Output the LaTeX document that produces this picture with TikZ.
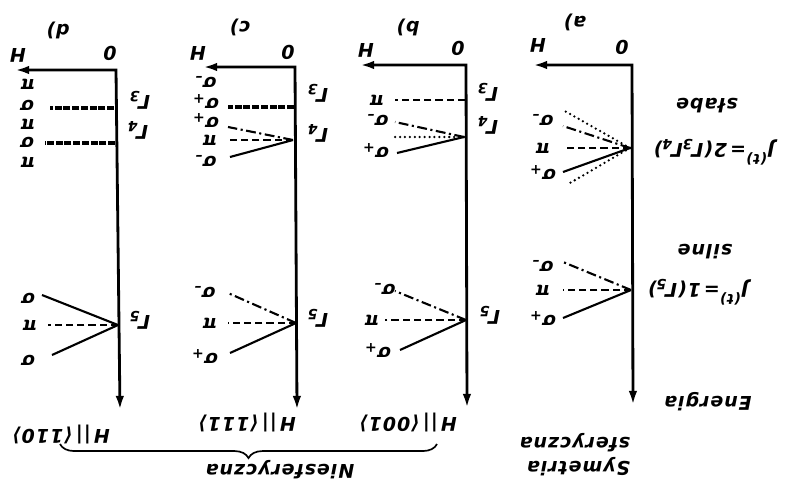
\documentclass[tikz,border=0pt]{standalone}
\usepackage{fontspec}
\setmainfont{DejaVu Sans}[LetterSpace=5]
\usetikzlibrary{arrows.meta,decorations.pathreplacing}

\newcommand{\lo}[1]{\raisebox{-0.4ex}{\fontsize{10}{10}\selectfont #1}}
\newcommand{\hi}[1]{\raisebox{1.0ex}{\fontsize{10}{10}\selectfont #1}}
\newcommand{\sgm}[1]{σ\lo{#1}}
\newcommand{\Gm}[1]{Γ\kern-1pt\lo{#1}}
\newcommand{\hdir}[1]{H\,||\,⟨#1⟩}

\begin{document}
\begin{tikzpicture}[x=0.025cm, y=-0.025cm,
  lbl/.style={rotate=180, inner sep=1pt, font=\fontsize{13}{15}\selectfont\bfseries\itshape},
  big/.style={lbl, font=\fontsize{13.5}{17}\selectfont\bfseries\itshape},
  axis/.style={line width=2pt, {Latex[length=10pt,width=6pt]}-{Latex[length=10pt,width=6pt]}},
  lvl/.style={line width=1.5pt},
  dashln/.style={lvl, dash pattern=on 5pt off 3pt},
  dashdot/.style={lvl, dash pattern=on 7pt off 2.5pt on 1.5pt off 2.5pt},
  dotln/.style={line width=1.8pt, line cap=round, dash pattern=on 0pt off 3.5pt},
  heavy/.style={line width=2.4pt, dash pattern=on 5pt off 1.2pt}]
\useasboundingbox (0,0) rectangle (794,487);

% a) symetria sferyczna
\coordinate (a0) at (632,65);
\coordinate (aH) at (533,65);
\coordinate (aE) at (633,405);
\draw[axis] (aH) -- (a0) -- (aE);
\node[big] (a0l) at (622,47) {0};
\node[big] (aHl) at (538,45) {H};
\node[big] (alab) at (575,22) {a)};
\coordinate (a34) at (630,148);
\coordinate (a34a) at (563,110);
\coordinate (a34b) at (563,126);
\coordinate (a34c) at (563,148);
\coordinate (a34d) at (563,172);
\coordinate (a34e) at (570,183);
\draw[dotln] (a34) -- (a34a);
\draw[dashdot] (a34) -- (a34b);
\draw[dashln] (a34) -- (a34c);
\draw[lvl] (a34) -- (a34d);
\draw[dotln] (a34) -- (a34e);
\node[lbl] (as1) at (543,118) {\sgm{–}};
\node[lbl] (ap1) at (543,148) {π};
\node[lbl] (as2) at (543,172) {\sgm{+}};
\coordinate (a5) at (631,290);
\coordinate (a5a) at (563,262);
\coordinate (a5b) at (563,290);
\coordinate (a5c) at (563,318);
\draw[dashdot] (a5) -- (a5a);
\draw[dashln] (a5) -- (a5b);
\draw[lvl] (a5) -- (a5c);
\node[lbl] (as3) at (543,264) {\sgm{–}};
\node[lbl] (ap2) at (543,290) {π};
\node[lbl] (as4) at (543,318) {\sgm{+}};
\node[big] (aJ34) at (714,152) {J\hi{(t)}=\,2(\Gm{3}\Gm{4})};
\node[big] (aslab) at (707,106) {słabe};
\node[big] (aJ5) at (698,292) {J\hi{(t)}=\,1(\Gm{5})};
\node[big] (asil) at (705,252) {silne};
\node[big] (aen) at (708,402) {Energia};
\node[big, align=left] (asym) at (575,455) {Symetria\\sferyczna};

% b) H || <001>
\coordinate (b0) at (466,65);
\coordinate (bH) at (360,65);
\coordinate (bE) at (467,408);
\draw[axis] (bH) -- (b0) -- (bE);
\node[big] (b0l) at (458,48) {0};
\node[big] (bHl) at (366,50) {H};
\node[big] (blab) at (408,27) {b)};
\coordinate (b3) at (465,100);
\coordinate (b3a) at (395,100);
\draw[dashln] (b3) -- (b3a);
\node[lbl] (bp1) at (377,100) {π};
\coordinate (b4) at (464,137);
\coordinate (b4a) at (395,122);
\coordinate (b4b) at (393,137);
\coordinate (b4c) at (397,153);
\draw[dashdot] (b4) -- (b4a);
\draw[dotln] (b4) -- (b4b);
\draw[lvl] (b4) -- (b4c);
\node[lbl] (bs1) at (378,118) {\sgm{–}};
\node[lbl] (bs2) at (376,150) {\sgm{+}};
\node[big] (bG3) at (488,92) {\Gm{3}};
\node[big] (bG4) at (488,125) {\Gm{4}};
\coordinate (b5) at (466,320);
\coordinate (b5a) at (395,291);
\coordinate (b5b) at (385,320);
\coordinate (b5c) at (400,350);
\draw[dashdot] (b5) -- (b5a);
\draw[dashln] (b5) -- (b5b);
\draw[lvl] (b5) -- (b5c);
\node[lbl] (bs3) at (385,287) {\sgm{–}};
\node[lbl] (bp2) at (372,320) {π};
\node[lbl] (bs4) at (378,350) {\sgm{+}};
\node[big] (bG5) at (490,315) {\Gm{5}};
\node[big] (bdir) at (408,423) {\hdir{001}};

% c) H || <111>
\coordinate (c0) at (295,67);
\coordinate (cH) at (203,67);
\coordinate (cE) at (297,410);
\draw[axis] (cH) -- (c0) -- (cE);
\node[big] (c0l) at (288,52) {0};
\node[big] (cHl) at (198,53) {H};
\node[big] (clab) at (240,27) {c)};
\coordinate (c3) at (294,107);
\coordinate (c3a) at (228,107);
\draw[heavy] (c3) -- (c3a);
\coordinate (c4) at (293,140);
\coordinate (c4a) at (228,127);
\coordinate (c4b) at (228,140);
\coordinate (c4c) at (230,157);
\draw[dashdot] (c4) -- (c4a);
\draw[dashln] (c4) -- (c4b);
\draw[lvl] (c4) -- (c4c);
\node[lbl] (cs1) at (206,80) {\sgm{–}};
\node[lbl] (cs2) at (206,101) {\sgm{+}};
\node[lbl] (cs3) at (206,120) {\sgm{+}};
\node[lbl] (cp1) at (210,140) {π};
\node[lbl] (cs4) at (206,159) {\sgm{–}};
\node[big] (cG3) at (318,93) {\Gm{3}};
\node[big] (cG4) at (318,133) {\Gm{4}};
\coordinate (c5) at (296,323);
\coordinate (c5a) at (228,293);
\coordinate (c5b) at (228,323);
\coordinate (c5c) at (230,353);
\draw[dashdot] (c5) -- (c5a);
\draw[dashln] (c5) -- (c5b);
\draw[lvl] (c5) -- (c5c);
\node[lbl] (cs5) at (205,290) {\sgm{–}};
\node[lbl] (cp2) at (210,323) {π};
\node[lbl] (cs6) at (205,356) {\sgm{+}};
\node[big] (cG5) at (318,318) {\Gm{5}};
\node[big] (cdir) at (247,423) {\hdir{111}};

% d) H || <110>
\coordinate (d0) at (116,70);
\coordinate (dH) at (15,70);
\coordinate (dE) at (120,410);
\draw[axis] (dH) -- (d0) -- (dE);
\node[big] (d0l) at (110,53) {0};
\node[big] (dHl) at (18,55) {H};
\node[big] (dlab) at (58,30) {d)};
\coordinate (d3) at (114,108);
\coordinate (d3a) at (50,108);
\draw[heavy] (d3) -- (d3a);
\coordinate (d4) at (115,143);
\coordinate (d4a) at (45,143);
\draw[heavy] (d4) -- (d4a);
\node[lbl] (dp1) at (28,84) {π};
\node[lbl] (ds1) at (27,105) {σ};
\node[lbl] (dp2) at (28,124) {π};
\node[lbl] (ds2) at (27,142) {σ};
\node[lbl] (dp3) at (28,162) {π};
\node[big] (dG3) at (140,100) {\Gm{3}};
\node[big] (dG4) at (138,130) {\Gm{4}};
\coordinate (d5) at (118,325);
\coordinate (d5a) at (42,295);
\coordinate (d5b) at (48,325);
\coordinate (d5c) at (52,355);
\draw[lvl] (d5) -- (d5a);
\draw[dashln] (d5) -- (d5b);
\draw[lvl] (d5) -- (d5c);
\node[lbl] (ds3) at (28,298) {σ};
\node[lbl] (dp4) at (30,325) {π};
\node[lbl] (ds4) at (28,360) {σ};
\node[big] (dG5) at (140,320) {\Gm{5}};
\node[big] (ddir) at (61,435) {\hdir{110}};

% klamra
\draw[line width=1.2pt, decorate, decoration={brace, amplitude=10pt}] (437,444) -- (60,444);
\node[big] (nsf) at (280,470) {Niesferyczna};
\end{tikzpicture}
\end{document}
